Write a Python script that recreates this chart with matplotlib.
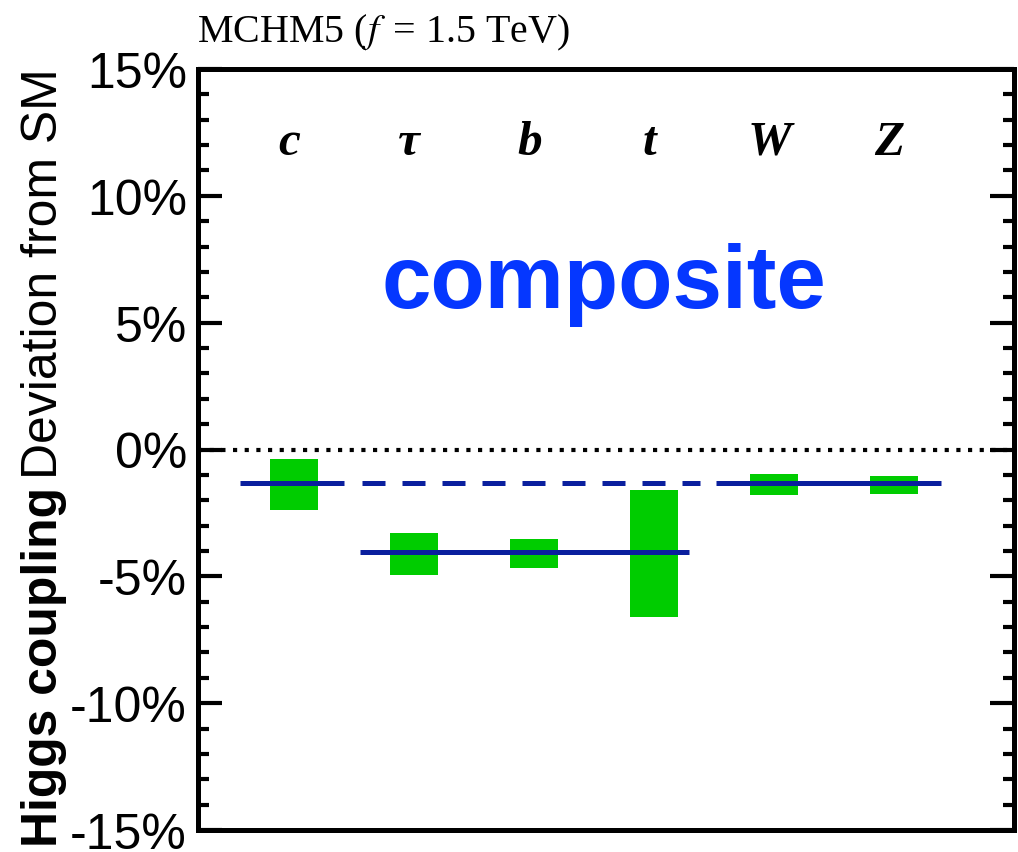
import matplotlib
matplotlib.use("Agg")
import matplotlib.pyplot as plt
from matplotlib.ticker import FixedLocator, MultipleLocator

# coupling deviations (%) for each particle: green band = range
particles = ['c', 'τ', 'b', 't', 'W', 'Z']
band_low = [-2.38, -4.94, -4.66, -6.59, -1.79, -1.75]
band_high = [-0.37, -3.28, -3.52, -1.59, -0.96, -1.04]

# composite prediction lines: start, end, value, style
line_start = [0.55, 1.57, 4.52, 1.55]
line_end = [1.42, 4.38, 6.39, 4.29]
line_value = [-1.34, -1.34, -1.34, -4.03]
line_style = ['solid', 'dashed', 'solid', 'solid']

ytick_vals = [-15, -10, -5, 0, 5, 10, 15]
ytick_labels = ['-15%', '-10%', '-5%', '0%', '5%', '10%', '15%']

SANS = 'Liberation Sans'
SERIF = 'Liberation Serif'

def main():
    plt.rcParams['mathtext.fontset'] = 'stix'
    plt.rcParams['axes.unicode_minus'] = False
    fig = plt.figure(figsize=(10.18, 8.53), dpi=100)
    ax = fig.add_axes([198 / 1018, 22 / 853, 816 / 1018, 761 / 853])

    xs = list(range(1, len(particles) + 1))
    heights = [h - l for l, h in zip(band_low, band_high)]
    ax.bar(xs, heights, bottom=band_low, width=0.4, color='#00cc00', zorder=2)

    ax.axhline(0, color='black', lw=3.0, linestyle=(0, (1, 1.8)), zorder=1)

    for x0, x1, v, st in zip(line_start, line_end, line_value, line_style):
        ls = (0, (4.6, 3.4)) if st == 'dashed' else '-'
        ax.plot([x0, x1], [v, v], color='#0a1f9e', lw=3.6, linestyle=ls,
                solid_capstyle='butt', dash_capstyle='butt', zorder=3)

    for x, p in zip(xs, particles):
        ax.text(x - 0.04, 11.65, p, ha='center', va='baseline', fontsize=35.5,
                style='italic', weight='bold', family=SERIF)

    ax.text(3.58, 5.62, 'composite', ha='center', va='baseline', fontsize=64,
            weight='bold', color='#0537ff', family=SANS)

    ax.set_xlim(0.2, 7.0)
    ax.set_ylim(-15, 15)
    ax.set_xticks([])
    ax.yaxis.set_major_locator(FixedLocator(ytick_vals))
    ax.yaxis.set_minor_locator(MultipleLocator(1))
    ax.set_yticklabels(ytick_labels, fontsize=36, family=SANS)
    ax.tick_params(axis='y', which='both', direction='in', left=True, right=True,
                   width=3, pad=8)
    ax.tick_params(axis='y', which='major', length=17)
    ax.tick_params(axis='y', which='minor', length=8)
    for sp in ax.spines.values():
        sp.set_linewidth(3.6)

    fig.text(197 / 1018, 1 - 42 / 853, r'MCHM5 ($f\,$ = 1.5 TeV)', ha='left',
             va='baseline', fontsize=28.8, family=SERIF)

    # y label: bold part from the bottom, plain part from the top
    fig.text(57 / 1018, 1 - 847 / 853, 'Higgs coupling', rotation=90,
             rotation_mode='anchor', ha='left', va='baseline', fontsize=35.9,
             weight='bold', family=SANS)
    fig.text(57 / 1018, 1 - 68 / 853, 'Deviation from SM', rotation=90,
             rotation_mode='anchor', ha='right', va='baseline', fontsize=35.9,
             family=SANS)

    fig.savefig('out.png', dpi=100)

if __name__ == "__main__":
    main()
